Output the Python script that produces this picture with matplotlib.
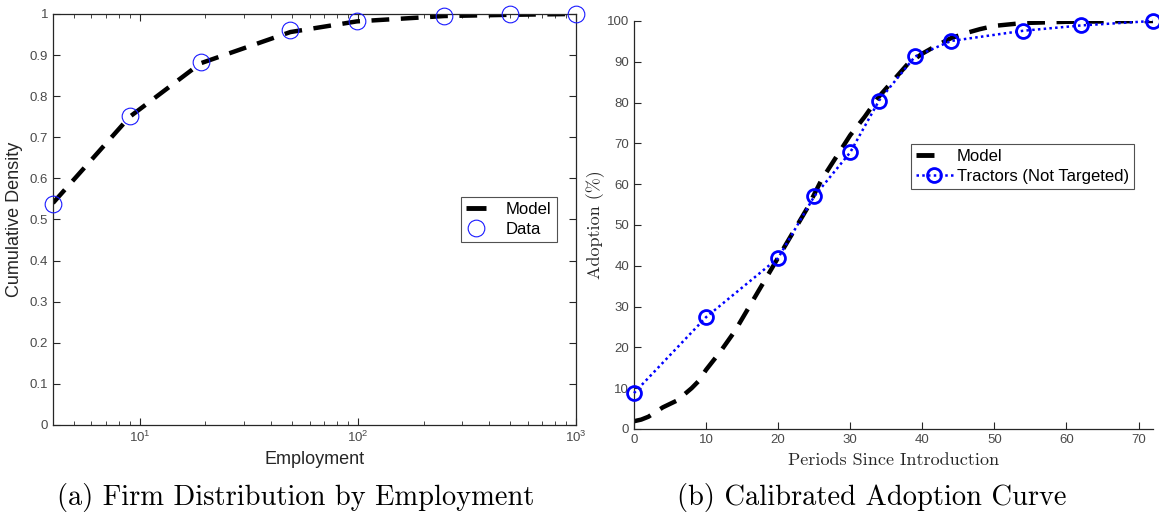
import matplotlib
matplotlib.use("Agg")
import matplotlib.pyplot as plt
from matplotlib.lines import Line2D
from matplotlib.ticker import FixedLocator, LogLocator, NullFormatter

# ---- Panel (a): firm distribution by employment ----
employment = [4, 9, 19, 49, 99, 249, 499, 1000]
cdf_data = [0.538, 0.752, 0.882, 0.960, 0.984, 0.996, 0.999, 1.0]
cdf_model = [0.540, 0.750, 0.880, 0.956, 0.982, 0.995, 0.998, 1.0]

# ---- Panel (b): calibrated adoption curve ----
periods_model = [0, 1, 2, 4, 6, 8, 9, 10, 12, 14, 16, 18, 20, 22, 24, 26, 28,
                 30, 32, 34, 36, 38, 40, 42, 44, 46, 48, 50, 54, 60, 66, 72]
adoption_model = [1.9, 2.3, 3.0, 5.3, 7.0, 10.0, 11.8, 14.5, 19.0, 24.0, 30.0,
                  36.0, 42.0, 48.0, 54.0, 61.0, 66.5, 72.0, 76.5, 81.5, 85.5,
                  89.5, 92.0, 94.0, 95.8, 97.0, 98.0, 98.8, 99.5, 99.8, 99.9, 100.0]
periods_tractors = [0, 10, 20, 25, 30, 34, 39, 44, 54, 62, 72]
adoption_tractors = [8.8, 27.4, 41.9, 57.0, 67.8, 80.5, 91.3, 95.1, 97.6, 98.9, 100.0]

SANS = ["Liberation Sans", "DejaVu Sans"]
SERIF = ["cmr10", "DejaVu Serif"]
AX_COLOR = "#262626"
TICK_COLOR = "#4a4a4a"
DATA_BLUE = "#1a1aff"
TRACTOR_BLUE = "#0000ff"
MODEL_DASH = (0, (4, 2.6))

plt.rcParams["font.family"] = SANS
plt.rcParams["axes.linewidth"] = 0.9

fig = plt.figure(figsize=(11.59, 5.14), dpi=100)

# Panel (a)
ax1 = fig.add_axes([0.0457, 0.1732, 0.4513, 0.7996])
ax1.plot(employment, cdf_model, color="black", lw=3.2,
         linestyle=MODEL_DASH, zorder=2)
ax1.plot(employment, cdf_data, linestyle="none", marker="o", ms=12,
         mfc="none", mec=DATA_BLUE, mew=0.8, zorder=3, clip_on=False)
ax1.set_xscale("log")
ax1.set_xlim(4, 1000)
ax1.set_ylim(0, 1)
ax1.xaxis.set_major_locator(FixedLocator([10, 100, 1000]))
ax1.xaxis.set_minor_locator(LogLocator(base=10, subs=range(2, 10), numticks=12))
ax1.xaxis.set_minor_formatter(NullFormatter())
ax1.set_yticks([i / 10 for i in range(11)])
ax1.set_yticklabels(["0", "0.1", "0.2", "0.3", "0.4", "0.5", "0.6", "0.7",
                     "0.8", "0.9", "1"])
ax1.tick_params(which="both", direction="in", top=True, right=True,
                colors=AX_COLOR, labelcolor=TICK_COLOR, labelsize=9.5)
ax1.tick_params(which="major", length=5)
ax1.tick_params(which="minor", length=3)
for sp in ax1.spines.values():
    sp.set_color(AX_COLOR)
ax1.set_xlabel("Employment", fontsize=13, color=AX_COLOR, labelpad=4)
ax1.set_ylabel("Cumulative Density", fontsize=13, color=AX_COLOR, labelpad=5)

handles1 = [
    Line2D([], [], color="black", lw=3.5, solid_capstyle="butt"),
    Line2D([], [], linestyle="none", marker="o", ms=12, mfc="none",
           mec=DATA_BLUE, mew=0.8),
]
leg1 = ax1.legend(handles1, ["Model", "Data"], loc="upper left",
                  bbox_to_anchor=(0.780, 0.555), fontsize=12, frameon=True,
                  fancybox=False, edgecolor=AX_COLOR, handlelength=1.2,
                  borderpad=0.3, labelspacing=0.3, handletextpad=1.2,
                  borderaxespad=0)
leg1.get_frame().set_linewidth(0.8)

# Panel (b)
ax2 = fig.add_axes([0.547, 0.1654, 0.4478, 0.7938])
ax2.plot(periods_model, adoption_model, color="black", lw=3.2,
         linestyle=MODEL_DASH, zorder=2)
ax2.plot(periods_tractors, adoption_tractors, color=TRACTOR_BLUE, lw=1.8,
         linestyle=(0, (1, 1.3)), marker="o", ms=10, mfc="none",
         mec=TRACTOR_BLUE, mew=2.0, zorder=3, clip_on=False)
ax2.set_xlim(0, 72)
ax2.set_ylim(0, 100)
ax2.set_xticks(range(0, 71, 10))
ax2.set_yticks(range(0, 101, 10))
ax2.spines["top"].set_visible(False)
ax2.spines["right"].set_visible(False)
for sp in ("left", "bottom"):
    ax2.spines[sp].set_color(AX_COLOR)
ax2.tick_params(direction="in", length=5, colors=AX_COLOR,
                labelcolor=TICK_COLOR, labelsize=9.5)
ax2.set_xlabel("Periods Since Introduction", fontsize=13, family=SERIF,
               color=AX_COLOR, labelpad=5)
ax2.set_ylabel("Adoption (%)", fontsize=13, family=SERIF, color=AX_COLOR,
               labelpad=1)

handles2 = [
    Line2D([], [], color="black", lw=3.5, dashes=(3.7, 20),
           dash_capstyle="butt"),
    Line2D([], [], color=TRACTOR_BLUE, lw=1.8, linestyle=(0, (1, 1.3)),
           marker="o", ms=10, mfc="none", mec=TRACTOR_BLUE, mew=2.0),
]
leg2 = ax2.legend(handles2, ["Model", "Tractors (Not Targeted)"],
                  loc="upper left", bbox_to_anchor=(0.534, 0.699), fontsize=12,
                  frameon=True, fancybox=False, edgecolor=AX_COLOR,
                  handlelength=2.2, borderpad=0.3, labelspacing=0.3,
                  handletextpad=0.25, borderaxespad=0)
leg2.get_frame().set_linewidth(0.8)

# Sub-figure captions
fig.text(296 / 1159, 0.018, "(a) Firm Distribution by Employment",
         ha="center", va="baseline", fontsize=20.5, family=SERIF)
fig.text(872 / 1159, 0.018, "(b) Calibrated Adoption Curve",
         ha="center", va="baseline", fontsize=20.5, family=SERIF)

fig.savefig("out.png", dpi=100)
